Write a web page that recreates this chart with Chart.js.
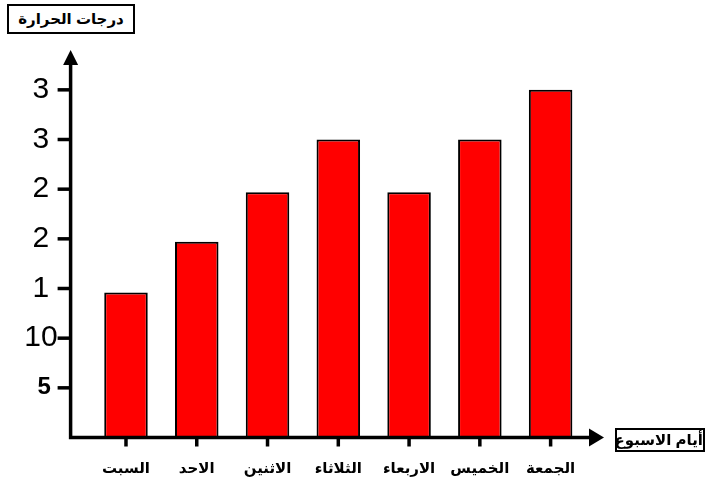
<!DOCTYPE html>
<html>
<head>
<meta charset="utf-8">
<script src="https://cdn.jsdelivr.net/npm/chart.js@4/dist/chart.umd.min.js"></script>
<style>
  body { margin: 0; background: #fff; }
  #wrap { position: relative; width: 707px; height: 483px; }
  .axis-title {
    position: absolute; box-sizing: border-box; border: 2px solid #000; background: #fff;
    font: bold 15px Arial, 'DejaVu Sans', sans-serif; color: #000; text-align: center;
    direction: rtl; white-space: nowrap;
  }
  #yTitle { left: 7px; top: 4px; width: 128px; height: 30px; line-height: 26px; }
  #xTitle { left: 615px; top: 428px; width: 90px; height: 24px; line-height: 20px; }
</style>
</head>
<body>
<div id="wrap">
  <canvas id="chart" width="707" height="483"></canvas>
  <div id="yTitle" class="axis-title">درجات الحرارة</div>
  <div id="xTitle" class="axis-title">أيام الاسبوع</div>
</div>
<script>
// === Data ===
const days = ['السبت', 'الاحد', 'الاثنين', 'الثلاثاء', 'الاربعاء', 'الخميس', 'الجمعة'];
const temps = [14.6, 19.7, 24.7, 30, 24.7, 30, 35];
const yTickValues = [5, 10, 15, 20, 25, 30, 35];
const yTickLabels = ['5 ', '10', '1 ', '2 ', '2 ', '3 ', '3 '];

// axis lines, arrows and tick marks (the picture draws them outside the plot box)
const axesPlugin = {
  id: 'axes',
  afterDatasetsDraw(chart) {
    const { ctx, chartArea: ca, scales } = chart;
    const ax = ca.left - 20;
    const ay = ca.bottom;
    ctx.save();
    ctx.strokeStyle = '#000';
    ctx.fillStyle = '#000';
    ctx.lineWidth = 3.5;
    ctx.beginPath();
    ctx.moveTo(ax, ay);
    ctx.lineTo(ax, ca.top);
    ctx.moveTo(ax - 1.75, ay);
    ctx.lineTo(ca.right + 4, ay);
    ctx.stroke();
    // y ticks
    yTickValues.forEach(v => {
      const py = scales.y.getPixelForValue(v);
      ctx.beginPath();
      ctx.moveTo(ax - 13, py);
      ctx.lineTo(ax, py);
      ctx.stroke();
    });
    // x ticks
    days.forEach((d, i) => {
      const px = scales.x.getPixelForValue(i);
      ctx.beginPath();
      ctx.moveTo(px, ay);
      ctx.lineTo(px, ay + 9);
      ctx.stroke();
    });
    // arrows
    ctx.beginPath();
    ctx.moveTo(ax, ca.top - 15);
    ctx.lineTo(ax - 7.5, ca.top);
    ctx.lineTo(ax + 7.5, ca.top);
    ctx.closePath();
    ctx.fill();
    ctx.beginPath();
    ctx.moveTo(ca.right + 18, ay);
    ctx.lineTo(ca.right + 3, ay - 9);
    ctx.lineTo(ca.right + 3, ay + 9);
    ctx.closePath();
    ctx.fill();
    ctx.restore();
  }
};

new Chart(document.getElementById('chart'), {
  type: 'bar',
  data: {
    labels: days,
    datasets: [{
      data: temps,
      backgroundColor: '#ff0000',
      borderColor: '#000000',
      borderWidth: 2,
      barPercentage: 0.615,
      categoryPercentage: 1
    }]
  },
  options: {
    responsive: false,
    animation: false,
    devicePixelRatio: 1,
    layout: { padding: { top: 65, right: 121, left: 0, bottom: 0 } },
    plugins: { legend: { display: false }, tooltip: { enabled: false } },
    scales: {
      x: {
        grid: { display: false, drawTicks: false },
        border: { display: false },
        ticks: {
          color: '#000',
          padding: 22,
          font: { family: "Arial, 'DejaVu Sans', sans-serif", size: 15, weight: 'bold' }
        },
        afterFit: s => { s.height = 45.5; }
      },
      y: {
        min: 0,
        max: 37.5,
        grid: { display: false, drawTicks: false },
        border: { display: false },
        ticks: {
          stepSize: 5,
          includeBounds: false,
          color: '#000',
          padding: 33,
          callback: v => {
            const i = yTickValues.indexOf(v);
            return i < 0 ? '' : yTickLabels[i];
          },
          font: ctx => {
            const v = ctx.tick ? ctx.tick.value : null;
            if (v === 0) return { family: 'Arial, sans-serif', size: 1 };
            if (v === 5) return { family: 'Arial, sans-serif', size: 24, weight: 'bold' };
            return { family: 'Arial, sans-serif', size: 30, weight: 'normal' };
          }
        },
        afterFit: s => { s.width = 90.6; }
      }
    }
  },
  plugins: [axesPlugin]
});
</script>
</body>
</html>
